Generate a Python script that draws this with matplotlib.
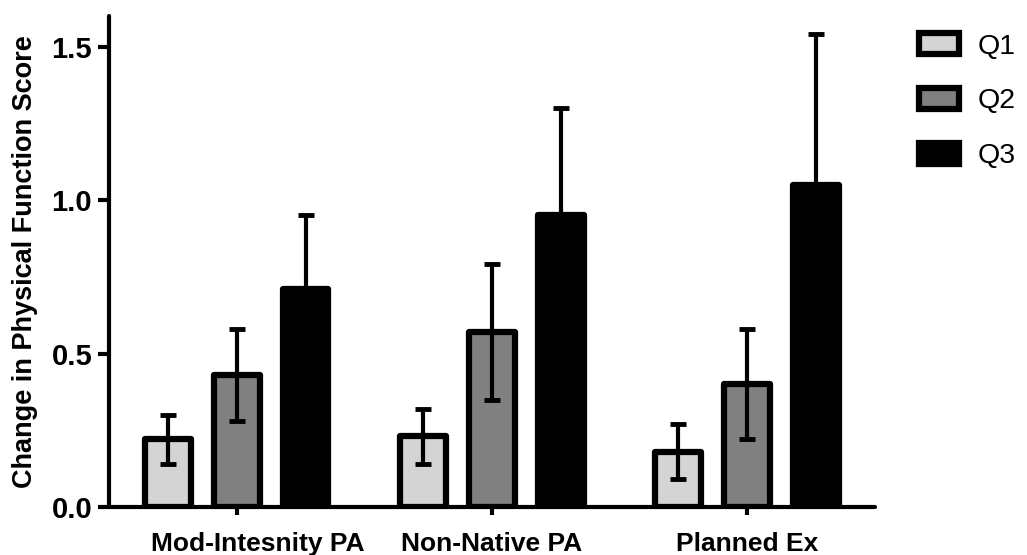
import numpy as np
import matplotlib
matplotlib.use("Agg")
import matplotlib.pyplot as plt
import matplotlib.transforms as mtransforms

plt.rcParams['font.family'] = ['Liberation Sans', 'DejaVu Sans']

# 데이터
groups = ['Mod-Intesnity PA', 'Non-Native PA', 'Planned Ex']
series = ['Q1', 'Q2', 'Q3']
q1_mean = [0.22, 0.23, 0.18]
q1_err = [0.08, 0.09, 0.09]
q2_mean = [0.43, 0.57, 0.40]
q2_err = [0.15, 0.22, 0.18]
q3_mean = [0.71, 0.95, 1.05]
q3_err = [0.24, 0.35, 0.49]
colors = ['#d4d4d4', '#808080', '#000000']

fig = plt.figure(figsize=(10.27, 5.55), dpi=100)
ax = fig.add_axes([0.106, 0.0865, 0.746, 0.885])

x = np.arange(len(groups))
pitch = 0.27
width = 0.18
means = [q1_mean, q2_mean, q3_mean]
errs = [q1_err, q2_err, q3_err]

for i, (m, e, c, lab) in enumerate(zip(means, errs, colors, series)):
    pos = x + (i - 1) * pitch
    ax.bar(pos, m, width, color=c, edgecolor='black', linewidth=4.5,
           label=lab, zorder=2, joinstyle='round')
    ax.errorbar(pos, m, yerr=e, fmt='none', ecolor='black', elinewidth=3,
                capsize=6, capthick=3.5, zorder=3)

ax.set_xlim(-0.5, 2.5)
ax.set_ylim(0, 1.6)
ax.set_yticks([0.0, 0.5, 1.0, 1.5])
ax.set_yticklabels(['0.0', '0.5', '1.0', '1.5'], fontsize=21, fontweight='bold')
ax.set_xticks(x)
ax.set_xticklabels(groups, fontsize=19, fontweight='bold')
ax.set_ylabel('Change in Physical Function Score', fontsize=19.5, fontweight='bold', labelpad=10)

for side in ['top', 'right']:
    ax.spines[side].set_visible(False)
for side in ['left', 'bottom']:
    ax.spines[side].set_linewidth(3)
    ax.spines[side].set_capstyle('round')

ax.tick_params(axis='y', length=8, width=3, pad=4)
ax.tick_params(axis='x', length=6, width=3, pad=12)

# 첫번째 라벨은 오른쪽으로 살짝 이동
lbl = ax.get_xticklabels()[0]
lbl.set_transform(lbl.get_transform() + mtransforms.ScaledTranslation(0.21, 0, fig.dpi_scale_trans))

fig.legend(loc='upper left', bbox_to_anchor=(0.895, 0.94), frameon=False,
           fontsize=20.5, handlelength=1.4, handleheight=0.75, labelspacing=1.0,
           handletextpad=0.65, borderpad=0, borderaxespad=0)

plt.savefig('out.png', dpi=100)
